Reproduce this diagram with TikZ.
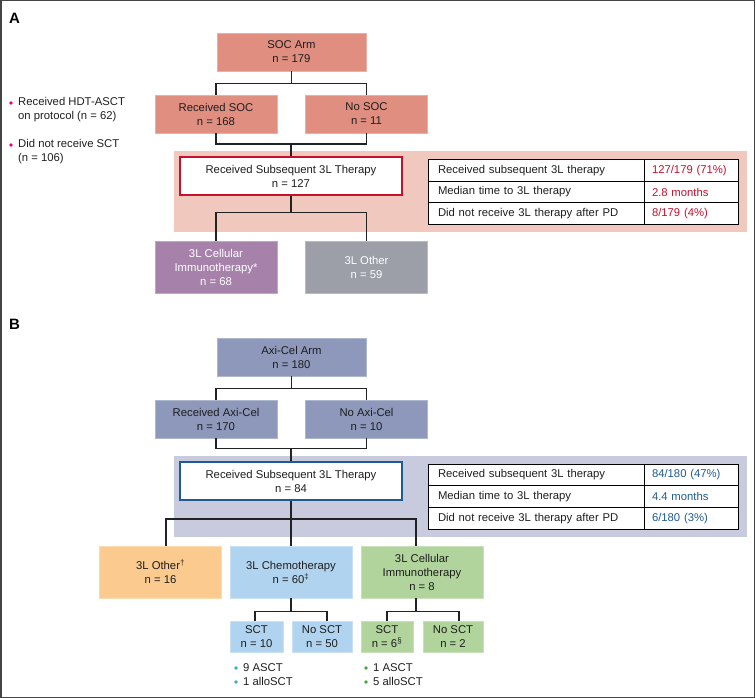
\documentclass[tikz,border=0pt]{standalone}
\usepackage{fontspec}
\setmainfont{Liberation Sans}
\usetikzlibrary{positioning, calc}
\definecolor{socred}{RGB}{224,142,128}
\definecolor{socbg}{RGB}{240,200,190}
\definecolor{socline}{RGB}{200,16,46}
\definecolor{cellpurple}{RGB}{166,130,170}
\definecolor{othergray}{RGB}{156,158,168}
\definecolor{axiblue}{RGB}{141,152,186}
\definecolor{axibg}{RGB}{200,202,222}
\definecolor{axiline}{RGB}{30,90,150}
\definecolor{otherorange}{RGB}{250,202,142}
\definecolor{chemoblue}{RGB}{176,212,240}
\definecolor{cellgreen}{RGB}{176,212,156}
\definecolor{dotpink}{RGB}{229,0,126}
\definecolor{dotblue}{RGB}{59,166,219}
\definecolor{dotgreen}{RGB}{59,170,52}
\definecolor{linegray}{RGB}{34,34,34}
\definecolor{framegray}{RGB}{68,68,68}
\definecolor{darktext}{RGB}{30,30,30}
\newcommand{\flowfont}{\fontsize{11.3}{14}\selectfont}

\begin{document}
\begin{tikzpicture}[x=1pt, y=-1pt,
				box/.style={rectangle, inner sep=0pt, minimum width=122pt, minimum height=38pt, align=center, font=\flowfont, text=darktext, fill=#1, draw=#1!70!white, line width=0.6pt},
				arm/.style={box=#1, minimum width=149pt},
				tall/.style={box=#1, minimum height=52pt},
				small/.style={box=#1, minimum height=31pt},
				subseq/.style={rectangle, inner sep=0pt, minimum width=222pt, minimum height=38pt, align=center, font=\flowfont, text=darktext, fill=white, draw=#1, line width=1.5pt},
				cellL/.style={rectangle, draw=black, line width=0.8pt, fill=white, inner xsep=10pt, inner ysep=0pt, minimum height=21.7pt, text width=196pt, align=left, font=\flowfont, text=darktext},
				cellR/.style={cellL, inner xsep=8pt, text width=78pt},
				note/.style={anchor=west, align=left, inner sep=0pt, font=\flowfont, text=darktext},
				dot/.style={circle, inner sep=0pt, minimum size=3.6pt, fill=#1},
				panel/.style={anchor=west, inner sep=0pt, font=\fontsize{15}{15}\selectfont\bfseries},
				conn/.style={draw=linegray, line width=1.5pt}
			]
			\useasboundingbox (0,0) rectangle (756,698);
			\draw[framegray, line width=1.5pt] (0.75,0.75) rectangle (754.25,697.25);

			% Panel A: SOC arm
			\node (labA) [panel] at (9,18) {A};
			\fill[socbg] (174,151) rectangle (747,232);
			\node (socarm) [arm=socred] at (291.5,52) {SOC Arm\\n = 179};
			\node (rsoc) [box=socred] at (216,114) {Received SOC\\n = 168};
			\node (nosoc) [box=socred] at (366.5,114) {No SOC\\n = 11};
			\node (subA) [subseq=socline] at (291,176) {Received Subsequent 3L Therapy\\n = 127};
			\node (cellA) [tall=cellpurple, text=white] at (216,267) {3L Cellular\\Immunotherapy*\\n = 68};
			\node (otherA) [tall=othergray, text=white] at (366.5,267) {3L Other\\n = 59};

			% notes left of SOC arm
			\node (dotA1) [dot=dotpink] at (11,103) {};
			\node (noteA1) [note] at (18,110) {Received HDT-ASCT\\on protocol (n = 62)};
			\node (dotA2) [dot=dotpink] at (11,145) {};
			\node (noteA2) [note] at (18,152) {Did not receive SCT\\(n = 106)};

			% table A
			\node (tA1) [cellL] at (536,170.3) {Received subsequent 3L therapy};
			\node (vA1) [cellR, text=socline] at (691,170.3) {127/179 (71\%)};
			\node (tA2) [cellL] at (536,192) {Median time to 3L therapy};
			\node (vA2) [cellR, text=socline] at (691,192) {2.8 months};
			\node (tA3) [cellL] at (536,213.7) {Did not receive 3L therapy after PD};
			\node (vA3) [cellR, text=socline] at (691,213.7) {8/179 (4\%)};

			% tree A
			\draw [conn] (socarm.south) -- ++(0,12) coordinate (jA1);
			\draw [conn] (rsoc.north) |- (jA1) -| (nosoc.north);
			\draw [conn] (subA.north) -- ++(0,-12) coordinate (jA2);
			\draw [conn] (rsoc.south) |- (jA2) -| (nosoc.south);
			\draw [conn] (subA.south) -- ++(0,17) coordinate (jA3);
			\draw [conn] (cellA.north) |- (jA3) -| (otherA.north);

			% Panel B: Axi-Cel arm
			\node (labB) [panel] at (9,324) {B};
			\fill[axibg] (174,456) rectangle (747,537);
			\node (axiarm) [arm=axiblue] at (291.5,357) {Axi-Cel Arm\\n = 180};
			\node (raxi) [box=axiblue] at (216,419) {Received Axi-Cel\\n = 170};
			\node (noaxi) [box=axiblue] at (366.5,419) {No Axi-Cel\\n = 10};
			\node (subB) [subseq=axiline] at (291,481) {Received Subsequent 3L Therapy\\n = 84};
			\node (otherB) [tall=otherorange] at (160.5,572) {3L Other\textsuperscript{†}\\n = 16};
			\node (chemoB) [tall=chemoblue] at (291,572) {3L Chemotherapy\\n = 60\textsuperscript{‡}};
			\node (cellB) [tall=cellgreen] at (422,572) {3L Cellular\\Immunotherapy\\n = 8};
			\node (sctC) [small=chemoblue, minimum width=53pt] at (256.5,636.5) {SCT\\n = 10};
			\node (nosctC) [small=chemoblue, minimum width=60pt] at (322,636.5) {No SCT\\n = 50};
			\node (sctG) [small=cellgreen, minimum width=52pt] at (387,636.5) {SCT\\n = 6\textsuperscript{§}};
			\node (nosctG) [small=cellgreen, minimum width=60pt] at (453,636.5) {No SCT\\n = 2};

			% table B
			\node (tB1) [cellL] at (536,474.8) {Received subsequent 3L therapy};
			\node (vB1) [cellR, text=axiline] at (691,474.8) {84/180 (47\%)};
			\node (tB2) [cellL] at (536,496.5) {Median time to 3L therapy};
			\node (vB2) [cellR, text=axiline] at (691,496.5) {4.4 months};
			\node (tB3) [cellL] at (536,518.2) {Did not receive 3L therapy after PD};
			\node (vB3) [cellR, text=axiline] at (691,518.2) {6/180 (3\%)};

			% SCT breakdown
			\node (dotC1) [dot=dotblue] at (236,668) {};
			\node (dotC2) [dot=dotblue] at (236,682) {};
			\node (noteC) [note] at (243,675) {9 ASCT\\1 alloSCT};
			\node (dotG1) [dot=dotgreen] at (366,668) {};
			\node (dotG2) [dot=dotgreen] at (366,682) {};
			\node (noteG) [note] at (373,675) {1 ASCT\\5 alloSCT};

			% tree B
			\draw [conn] (axiarm.south) -- ++(0,12) coordinate (jB1);
			\draw [conn] (raxi.north) |- (jB1) -| (noaxi.north);
			\draw [conn] (subB.north) -- ++(0,-13) coordinate (jB2);
			\draw [conn] (raxi.south) |- (jB2) -| (noaxi.south);
			\draw [conn] (subB.south) -- ++(0,18) coordinate (jB3);
			\draw [conn] ($(otherB.north)+(5.5,0)$) |- (jB3) -| ($(cellB.north)+(-6,0)$);
			\draw [conn] (jB3) -- (chemoB.north);
			\draw [conn] (chemoB.south) -- ++(0,13) coordinate (jB4);
			\draw [conn] ($(sctC.north)+(-1.5,0)$) |- (jB4) -| ($(nosctC.north)+(5,0)$);
			\draw [conn] ($(cellB.south)+(-6,0)$) -- ++(0,13) coordinate (jB5);
			\draw [conn] (sctG.north) |- (jB5) -| ($(nosctG.north)+(6,0)$);

		\end{tikzpicture}
\end{document}
